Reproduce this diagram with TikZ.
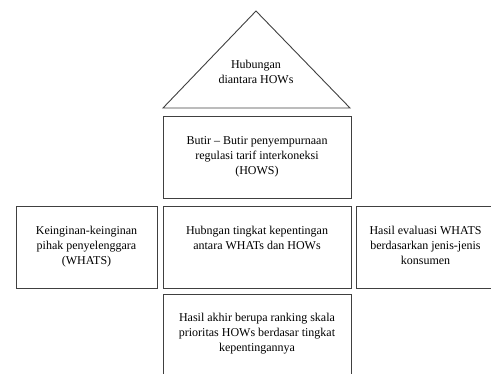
\documentclass[tikz,border=0pt]{standalone}
\usepackage{fontspec}
\setmainfont{Liberation Serif}
\begin{document}
\begin{tikzpicture}[x=1pt,y=-1pt,
  boxshape/.style={draw=black!75,line width=0.9pt},
  boxtext/.style={anchor=north,align=center,inner sep=0pt,font=\fontsize{12}{15}\selectfont}]
\useasboundingbox (0,0) rectangle (491,374);
\draw[boxshape] (256,11) coordinate (apex) -- (350,108) -- (163,108) -- cycle;
\node[boxtext] (tritext) at (256,60) {Hubungan\\diantara HOWs};
\draw[boxshape] (163,116) rectangle (351,198);
\node[boxtext] (howtext) at (257,136) {Butir -- Butir penyempurnaan\\regulasi tarif interkoneksi\\(HOWS)};
\draw[boxshape] (16,206) rectangle (157,288);
\node[boxtext] (whattext) at (86.5,226) {Keinginan-keinginan\\pihak penyelenggara\\(WHATS)};
\draw[boxshape] (163,206) rectangle (351,288);
\node[boxtext] (reltext) at (257,226) {Hubngan tingkat kepentingan\\antara WHATs dan HOWs};
\draw[boxshape] (356,206) rectangle (495,288);
\node[boxtext] (evaltext) at (425.5,226) {Hasil evaluasi WHATS\\berdasarkan jenis-jenis\\konsumen};
\draw[boxshape] (163,294) rectangle (351,380);
\node[boxtext] (ranktext) at (257,313) {Hasil akhir berupa ranking skala\\prioritas HOWs berdasar tingkat\\kepentingannya};
\end{tikzpicture}
\end{document}
